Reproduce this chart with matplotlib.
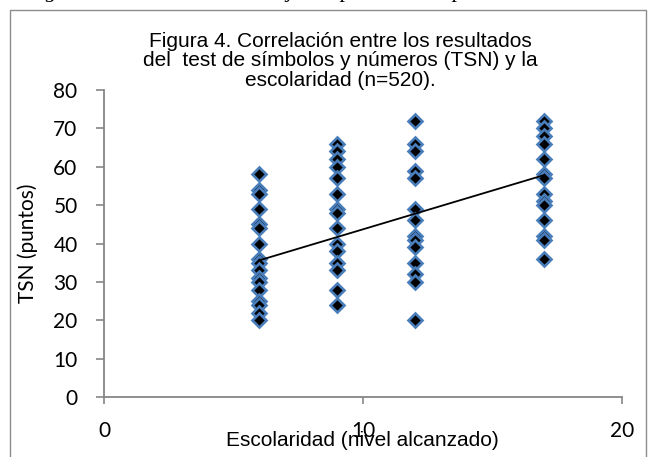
import matplotlib.pyplot as plt
from matplotlib.patches import Rectangle

# escolaridad (x) y puntaje TSN (y)
esc_6 = [58, 54, 53, 49, 45, 44, 40, 36, 35, 33, 31, 30, 28, 25, 24, 22, 20]
esc_9 = [66, 64, 62, 60, 57, 53, 49, 48, 44, 40, 38, 35, 33, 28, 24]
esc_12 = [72, 66, 64, 59, 57, 49, 46, 42, 41, 39, 35, 32, 30, 20]
esc_17 = [72, 70, 68, 66, 62, 58, 57, 53, 51, 50, 46, 42, 41, 36]
niveles = [6, 9, 12, 17]
grupos = [esc_6, esc_9, esc_12, esc_17]

# linea de tendencia
trend_slope = 2.02
trend_intercept = 23.5

x_ticks = [0, 10, 20]
y_ticks = [0, 10, 20, 30, 40, 50, 60, 70, 80]

W, H = 648, 457
fig = plt.figure(figsize=(W / 100, H / 100), dpi=100)

# marco del area del grafico
fig.patches.append(Rectangle((10 / W, -0.1), (636 / W), 1.1 - 10 / H, transform=fig.transFigure,
                             fill=False, edgecolor='#8c8c8c', lw=1.0))

# restos del texto del documento cortado arriba
for txt, px in [('Figura', 26), ('j', 286), ('p', 340), ('p', 452)]:
    fig.text(px / W, 1 + 3 / H, txt, family='Liberation Serif', style='italic',
             fontsize=16, va='baseline', ha='left')

ax = fig.add_axes([104 / W, 1 - 397 / H, (622 - 104) / W, (397 - 90) / H])

for nivel, vals in zip(niveles, grupos):
    ax.plot([nivel] * len(vals), vals, linestyle='None', marker='D', markersize=7,
            markerfacecolor='black', markeredgecolor='#4a7ebb', markeredgewidth=1.9,
            clip_on=False)

x0, x1 = min(niveles), max(niveles)
ax.plot([x0, x1], [trend_intercept + trend_slope * x0, trend_intercept + trend_slope * x1],
        color='black', lw=1.3)

ax.set_xlim(0, 20)
ax.set_ylim(0, 80)
ax.set_xticks(x_ticks)
ax.set_yticks(y_ticks)

for s in ['top', 'right']:
    ax.spines[s].set_visible(False)
for s in ['left', 'bottom']:
    ax.spines[s].set_color('#868686')
    ax.spines[s].set_linewidth(1.3)

ax.tick_params(axis='y', direction='out', length=6, width=1.2, color='#868686', pad=13,
               labelsize=15)
ax.tick_params(axis='x', direction='out', length=5, width=1.2, color='#868686', pad=12,
               labelsize=15)
for lab in ax.get_xticklabels() + ax.get_yticklabels():
    lab.set_family('Lato')

ax.set_ylabel('TSN (puntos)', family='Lato', fontsize=15, labelpad=0)
ax.yaxis.set_label_coords(-(104 - 38) / (622 - 104), 0.5)

fig.text(362 / W, 1 - 441 / H, 'Escolaridad (nivel alcanzado)', family='Liberation Sans',
         fontsize=15, ha='center', va='center')

fig.text(340 / W, 1 - 61 / H,
         'Figura 4. Correlación entre los resultados\n'
         'del  test de símbolos y números (TSN) y la\n'
         'escolaridad (n=520).',
         family='Liberation Sans', fontsize=15, ha='center', va='center', linespacing=1.05)

plt.savefig('out.png', dpi=100)
